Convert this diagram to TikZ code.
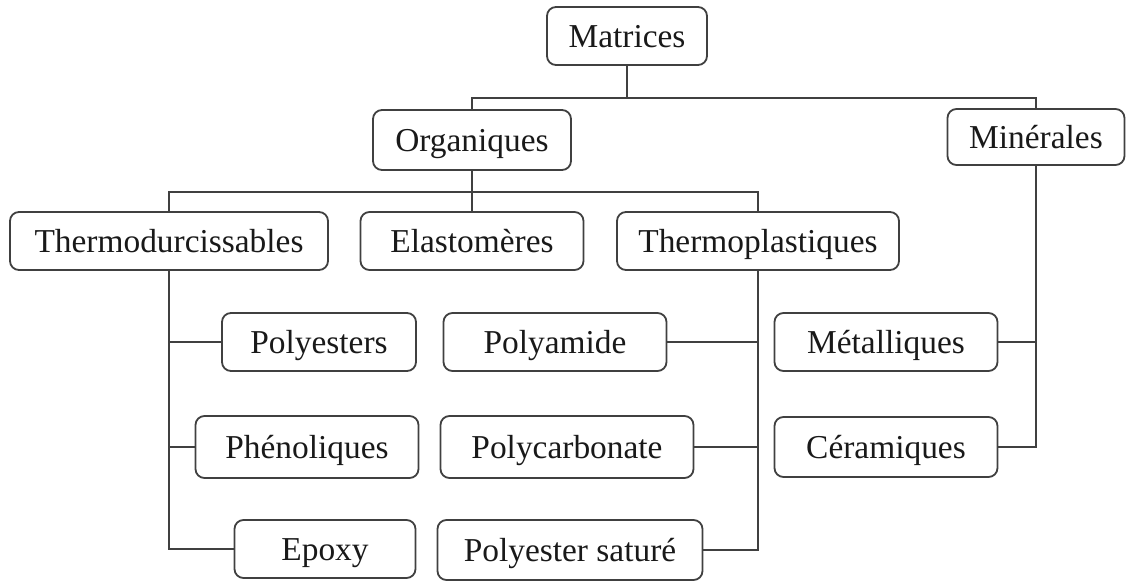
\documentclass[tikz,border=0pt]{standalone}
\usepackage{fontspec}
\setmainfont{Liberation Serif}
\usetikzlibrary{positioning}

\begin{document}
\begin{tikzpicture}[x=0.5pt,y=-0.5pt,
  box/.style={draw=black!75,line width=0.9pt,rounded corners=4.5pt,minimum height=29pt,inner sep=0pt,text height=12.5pt,text depth=1.5pt,text=black!90,font=\fontsize{16.7}{20}\selectfont},
  edge/.style={draw=black!75,line width=0.9pt}]
\useasboundingbox (0,0) rectangle (1126,585);
\node[box,minimum width=80pt] (mat) at (627,36) {Matrices};
\node[box,minimum width=99pt,minimum height=30pt] (org) at (472,140) {Organiques};
\node[box,minimum width=88.5pt,minimum height=28pt] (min) at (1036,137) {Minérales};
\node[box,minimum width=159pt] (td) at (169,241) {Thermodurcissables};
\node[box,minimum width=111.5pt] (ela) at (472,241) {Elastomères};
\node[box,minimum width=141pt] (tp) at (758,241) {Thermoplastiques};
\node[box,minimum width=97pt] (pes) at (319,342) {Polyesters};
\node[box,minimum width=111.5pt,minimum height=31pt] (phe) at (307,447) {Phénoliques};
\node[box,minimum width=90.5pt] (epo) at (325,549) {Epoxy};
\node[box,minimum width=111.5pt] (pam) at (555,342) {Polyamide};
\node[box,minimum width=126.5pt,minimum height=31pt] (pcb) at (567,447) {Polycarbonate};
\node[box,minimum width=132.5pt,minimum height=30pt] (psat) at (570,550) {Polyester saturé};
\node[box,minimum width=111.5pt] (met) at (886,342) {Métalliques};
\node[box,minimum width=111.5pt,minimum height=30pt] (cer) at (886,447) {Céramiques};
\coordinate (j1) at (627,98);
\coordinate (j2) at (472,192);
% level 1
\draw[edge] (mat.south) -- (j1);
\draw[edge] (org.north) |- (j1) -| (min.north);
% level 2
\draw[edge] (org.south) -- (ela.north);
\draw[edge] (td.north) |- (j2) -| (tp.north);
% thermodurcissables
\draw[edge] (td.south) |- (epo.west);
\draw[edge] (pes.west) -- (pes.west -| td.south);
\draw[edge] (phe.west) -- (phe.west -| td.south);
% thermoplastiques
\draw[edge] (tp.south) |- (psat.east);
\draw[edge] (pam.east) -- (pam.east -| tp.south);
\draw[edge] (pcb.east) -- (pcb.east -| tp.south);
% minerales
\draw[edge] (min.south) |- (cer.east);
\draw[edge] (met.east) -- (met.east -| min.south);
\end{tikzpicture}
\end{document}
